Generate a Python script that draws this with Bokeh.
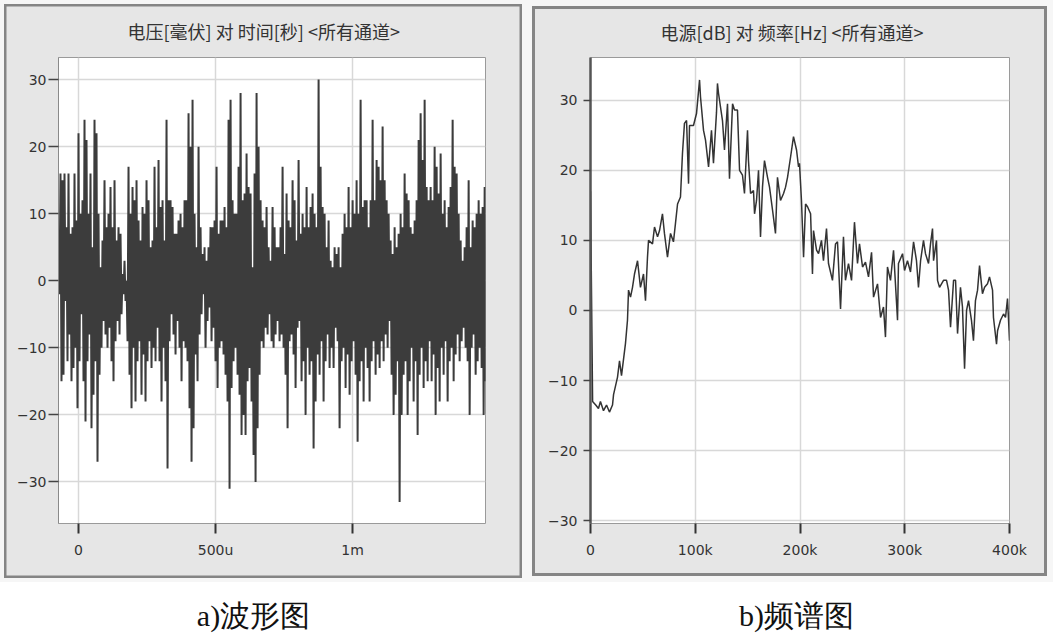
from bokeh.plotting import figure
from bokeh.layouts import column, row
from bokeh.models import FixedTicker, Label, Range1d
from bokeh.embed import file_html
from bokeh.resources import INLINE

# ---------------- data ----------------
titles = ["电压[毫伏] 对 时间[秒] <所有通道>", "电源[dB] 对 频率[Hz] <所有通道>"]
captions = ["a)波形图", "b)频谱图"]

y_ticks = [-30, -20, -10, 0, 10, 20, 30]
time_ticks_us = [0, 500, 1000]
time_tick_labels = ["0", "500u", "1m"]
freq_ticks_khz = [0, 100, 200, 300, 400]
freq_tick_labels = ["0", "100k", "200k", "300k", "400k"]

# waveform: alternating positive / negative swings (mV)
upper_peaks_mv = [
    1, 16, 15, 16, 8, 16, 7, 8, 16, 9,
    22, 10, 12, 24, 21, 10, 16, 5, 24, 22,
    10, 2, 6, 15, 8, 10, 14, 8, 15, 6,
    8, 7, 1, 3, 0, 17, 10, 14, 12, 15,
    9, 6, 11, 10, 15, 12, 5, 6, 17, 8,
    18, 11, 12, 6, 24, 12, 12, 11, 7, 7,
    9, 10, 8, 12, 12, 25, 20, 27, 10, 5,
    20, 8, 4, 5, 3, 5, 8, 8, 9, 17,
    7, 9, 9, 11, 8, 24, 27, 12, 10, 10,
    17, 28, 12, 13, 19, 14, 13, 2, 16, 28,
    20, 12, 9, 8, 11, 5, 3, 11, 8, 5,
    5, 8, 17, 4, 13, 9, 8, 15, 12, 6,
    18, 7, 10, 8, 14, 8, 11, 13, 10, 8,
    30, 17, 11, 10, 5, 9, 3, 2, 5, 4,
    5, 2, 7, 10, 8, 14, 8, 12, 10, 15,
    10, 27, 11, 12, 12, 8, 12, 24, 12, 18,
    17, 15, 23, 15, 12, 10, 6, 4, 8, 5,
    7, 10, 8, 16, 13, 12, 8, 7, 9, 12,
    21, 25, 18, 27, 14, 12, 14, 12, 20, 17,
    13, 19, 10, 12, 8, 11, 14, 24, 17, 16,
    10, 6, 3, 5, 8, 15, 5, 9, 8, 10,
    12, 10, 11, 14,
]
lower_peaks_mv = [
    -2, -15, -14, -3, -12, -8, -15, -13, -10, -19,
    -12, -5, -15, -21, -12, -8, -22, -17, -12, -27,
    -14, -10, -6, -8, -10, -7, -12, -15, -9, -6,
    -8, -5, -2, -3, -9, -14, -19, -10, -18, -12,
    -9, -17, -11, -18, -12, -9, -13, -10, -12, -7,
    -12, -18, -10, -15, -28, -9, -5, -8, -11, -6,
    -10, -15, -9, -10, -12, -19, -27, -22, -11, -15,
    -8, -5, -2, -10, -6, -4, -9, -7, -12, -16,
    -10, -9, -11, -14, -18, -31, -16, -12, -10, -14,
    -17, -23, -20, -23, -15, -13, -18, -26, -30, -22,
    -14, -9, -10, -7, -8, -5, -9, -10, -8, -6,
    -9, -8, -10, -14, -22, -9, -8, -11, -16, -7,
    -6, -15, -12, -20, -10, -14, -12, -25, -18, -11,
    -14, -9, -18, -12, -8, -13, -10, -13, -7, -9,
    -22, -12, -10, -16, -11, -17, -12, -9, -14, -24,
    -15, -12, -18, -10, -13, -18, -12, -9, -14, -11,
    -13, -9, -12, -8, -10, -6, -14, -20, -17, -12,
    -33, -20, -14, -12, -20, -15, -10, -18, -12, -23,
    -14, -10, -16, -12, -15, -9, -15, -11, -20, -13,
    -18, -10, -14, -9, -18, -12, -10, -15, -11, -8,
    -12, -9, -7, -10, -12, -20, -10, -8, -14, -12,
    -10, -13, -20, -15,
]
first_sample_us = -73.0
sample_interval_us = 3.65

# spectrum
freq_khz = [
    0, 1, 2, 5, 7.6, 9.5, 12.4, 15.3, 18.1, 21, 22, 25.8, 27.7, 29.6, 33.4, 35.3, 36.3, 38.2,
    40.1, 42, 44.9, 47.7, 50.6, 52.5, 54.4, 55.4, 59.2, 61.1, 64, 65.9, 68.7, 70.6, 73.5,
    76.4, 79.2, 81.1, 83.1, 85.9, 87.8, 89.7, 91.7, 93.6, 94.5, 98.3, 101.2, 104.1, 105,
    107.9, 109.8, 112.7, 115.5, 117.4, 120.3, 121.2, 122.2, 126, 127.9, 130.8, 132.7, 135.6,
    137.5, 140.3, 142.3, 145.1, 147, 149.9, 150.8, 152.8, 155.6, 156.6, 158.5, 160.4, 162.3,
    164.2, 166.1, 169, 170.9, 173.8, 176.6, 178.5, 181.4, 184.3, 186.2, 188.1, 191, 193.8,
    196.7, 198.6, 199.5, 201.4, 203.4, 205.3, 207.2, 210.1, 211.9, 212.9, 215.8, 217.7,
    220.5, 222.4, 225.3, 227.2, 231, 233.9, 235.8, 238.7, 241.5, 243.4, 246.3, 249.2, 252,
    254.9, 256.8, 259.7, 262.5, 265.4, 268.3, 270.2, 274, 276.9, 279.7, 281.6, 283.5, 286.4,
    289.3, 293.1, 294, 297.9, 299.8, 302.6, 305.5, 308.4, 311.2, 313.1, 315.1, 317.9, 319.8,
    322.7, 324.6, 326.5, 327.5, 330.3, 331.3, 333.2, 337, 339.9, 341.8, 343.7, 346.6, 348.5,
    350.4, 353.2, 355.1, 357.1, 359, 360.9, 363.7, 365.6, 367.5, 369.5, 371.4, 374.2, 376.2,
    379, 380.9, 383.8, 384.7, 387.6, 388.6, 391.4, 394.3, 396.2, 398.1, 399.1, 400,
]
power_db = [
    17, 2, -13, -13.5, -14, -13, -14.3, -13.5, -14.5, -13.5, -12, -9.5, -7.2, -9.3, -4.7, -1.4, 2.9, 1.9,
    3.3, 5.2, 7.1, 3.3, 5.2, 1.4, 7.6, 10, 9.5, 11.9, 10.5, 11.4, 13.8, 11, 7.6,
    11, 9.8, 12.4, 15.2, 16.2, 22.4, 26.7, 27.1, 18.1, 26.4, 26.4, 28.1, 32.9, 30.5,
    25.7, 24.3, 20.5, 25.7, 21, 28.3, 32.4, 31, 27.1, 22.9, 29.5, 18.8, 29.5,
    28.6, 28.6, 20, 19.3, 16.7, 25.7, 21.4, 16.7, 17.1, 13.8, 15.7, 20, 10.5,
    17.6, 21.4, 19, 17.6, 14.3, 11, 19, 15.7, 16.7, 17.6, 19, 21.9, 24.8,
    22.9, 20.5, 21, 15.7, 7.6, 15.2, 14.8, 13.8, 5.2, 11.4, 8.6, 8.1,
    10, 7.1, 11.7, 6.7, 4.3, 9.5, 9.8, 0.2, 10.5, 4.3, 6.7, 4.3, 12.6,
    6.7, 9.5, 6.2, 6.9, 4.8, 8.3, 1.9, 3.8, -1, 0.5, -3.8, 6.2, 4.3,
    8.6, -1.4, 6.7, 8.1, 5.7, 7.1, 5.5, 9.8, 7.1, 3.3, 7.1, 10, 8.1,
    6.7, 9.5, 11.7, 7.1, 10, 4.3, 3.3, 4.3, 4.3, 2.9, -2.4, 4.3, 4.3,
    -3.3, 3.3, 0.5, -8.3, 0, 1.4, -1.4, -4.3, 1.4, 2.9, 6.4, 2.4, 3.3,
    3.8, 4.8, 2.9, -1, -4.8, -2.9, -1.4, -0.5, -1, 1.7, -1.4, -4.3,
]

# waveform samples: interleave the read swings
voltage_mv = []
for up, down in zip(upper_peaks_mv, lower_peaks_mv):
    voltage_mv += [up, down]
time_us = [first_sample_us + i * sample_interval_us for i in range(len(voltage_mv))]

PANEL_BG = "#E6E6E6"
TICK_FONT = "DejaVu Sans"


def style_panel(p, ticks_x, labels_x, yline_color, yline_width, ytick_out, ystand, xstand,
                title_standoff, title_offset, edge_px, line_px):
    # transparent canvas border: the host element's background + inset shadows
    # give the grey panel with its bevelled frame line
    p.border_fill_color = None
    p.background_fill_color = "white"
    p.styles = {
        "background-color": PANEL_BG,
        "box-shadow": (f"inset 0 0 0 {edge_px}px #F6F6F6, "
                       f"inset 0 0 0 {edge_px + line_px}px #858585"),
    }
    p.outline_line_color = "#9a9a9a"
    p.outline_line_width = 1

    p.title.text_font = "Noto Sans CJK SC"
    p.title.text_font_size = "18px"
    p.title.text_font_style = "normal"
    p.title.text_color = "#333333"
    p.title.align = "left"
    p.title.offset = title_offset
    p.title.standoff = title_standoff

    xa = p.xaxis[0]
    xa.ticker = FixedTicker(ticks=ticks_x)
    xa.major_label_overrides = dict(zip(ticks_x, labels_x))
    xa.axis_line_color = None
    xa.major_tick_line_color = "#333333"
    xa.major_tick_line_width = 2
    xa.major_tick_out = 10
    xa.major_tick_in = 0
    xa.minor_tick_line_color = None
    xa.major_label_standoff = xstand
    xa.major_label_text_font = TICK_FONT
    xa.major_label_text_font_size = "14px"
    xa.major_label_text_color = "#333333"

    ya = p.yaxis[0]
    ya.ticker = FixedTicker(ticks=y_ticks)
    ya.axis_line_color = yline_color
    ya.axis_line_width = yline_width
    ya.major_tick_line_color = "#444444"
    ya.major_tick_line_width = 1.5
    ya.major_tick_out = ytick_out
    ya.major_tick_in = 0
    ya.minor_tick_line_color = None
    ya.major_label_standoff = ystand
    ya.major_label_text_font = TICK_FONT
    ya.major_label_text_font_size = "14px"
    ya.major_label_text_color = "#333333"

    p.xgrid.ticker = FixedTicker(ticks=ticks_x)
    p.ygrid.ticker = FixedTicker(ticks=y_ticks)
    for g in (p.xgrid[0], p.ygrid[0]):
        g.grid_line_color = "#D8D8D8"
        g.grid_line_width = 1.5


# ---------------- left: waveform ----------------
p1 = figure(width=526, height=582, title=titles[0],
            x_range=Range1d(-73, 1485), y_range=Range1d(-36.2, 33.3),
            output_backend="svg", toolbar_location=None,
            min_border_left=58, min_border_right=41, min_border_top=53, min_border_bottom=55)
style_panel(p1, time_ticks_us, time_tick_labels, "#8a8a8a", 1, 10, 2, 8, 27, 69, 4, 2.5)
p1.line(time_us, voltage_mv, line_color="#3c3c3c", line_width=2.0)

# ---------------- right: spectrum ----------------
p2 = figure(width=527, height=582, title=titles[1],
            x_range=Range1d(0, 400), y_range=Range1d(-30.4, 36.1),
            output_backend="svg", toolbar_location=None,
            min_border_left=64, min_border_right=44, min_border_top=57, min_border_bottom=59)
style_panel(p2, freq_ticks_khz, freq_tick_labels, "#555555", 2.5, 7, 6, 8, 25, 70, 6, 3)
p2.line(freq_khz, power_db, line_color="#333333", line_width=1.5)

# ---------------- captions ----------------
cap = figure(width=1053, height=52, x_range=Range1d(0, 1), y_range=Range1d(0, 1),
             output_backend="svg", toolbar_location=None, min_border=0)
cap.axis.visible = False
cap.grid.visible = False
cap.outline_line_color = None
cap.border_fill_color = "white"
cap.background_fill_color = "white"
for cx, txt in zip([253, 796], captions):
    cap.add_layout(Label(x=cx, y=19, x_units="screen", y_units="screen", text=txt,
                         text_align="center", text_baseline="middle",
                         text_font="Liberation Serif",
                         text_font_size="30px", text_color="#111111"))

layout = column(row(p1, p2, spacing=0), cap, spacing=0)

with open("out.html", "w") as f:
    f.write(file_html(layout, INLINE))
